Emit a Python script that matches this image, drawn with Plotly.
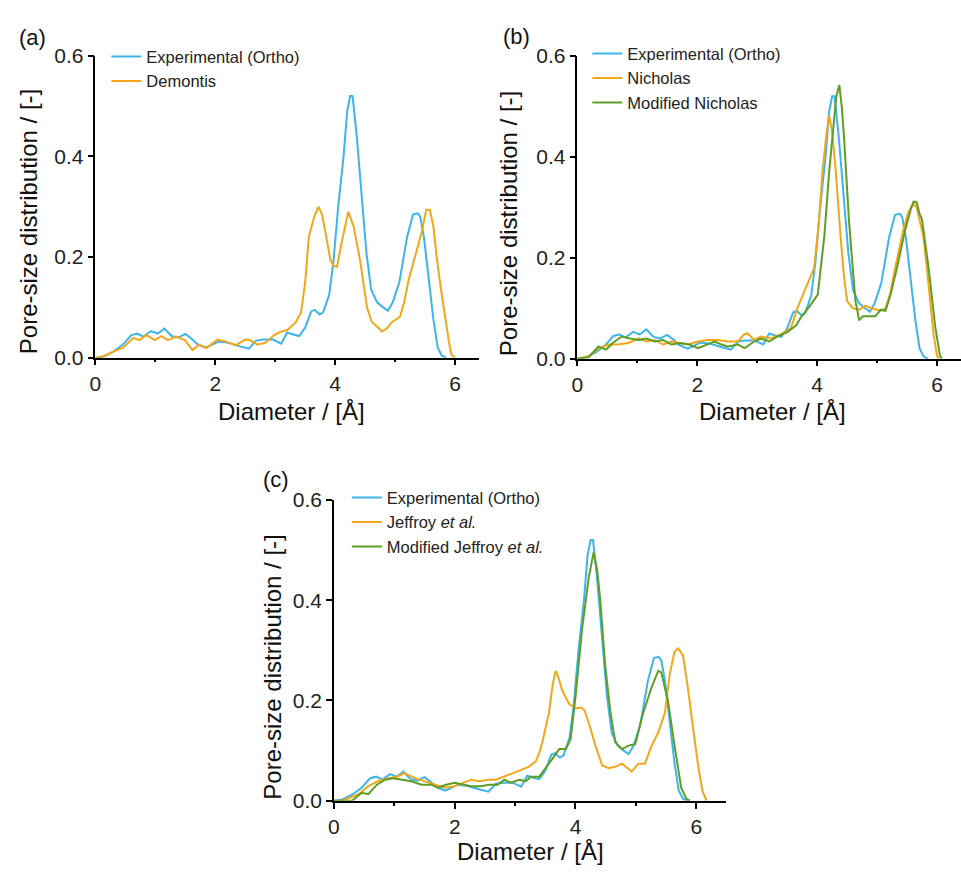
import plotly.graph_objects as go

# ---------------- data ----------------
exp_x = [0.0, 0.13, 0.3, 0.46, 0.6, 0.7, 0.8, 0.93, 1.04, 1.15, 1.27, 1.38, 1.5, 1.6, 1.7, 1.84, 1.95,
         2.05, 2.2, 2.3, 2.43, 2.56, 2.68, 2.8, 2.96, 3.1, 3.2, 3.3, 3.4, 3.5, 3.6, 3.66, 3.74, 3.8,
         3.9, 3.97, 4.05, 4.14, 4.2, 4.25, 4.29, 4.36, 4.44, 4.52, 4.6, 4.7, 4.8, 4.88, 4.96, 5.07,
         5.2, 5.3, 5.38, 5.42, 5.48, 5.56, 5.64, 5.71, 5.78, 5.85]
exp_y = [0.0, 0.002, 0.012, 0.026, 0.045, 0.048, 0.042, 0.053, 0.048, 0.058, 0.043, 0.040, 0.047, 0.038,
         0.027, 0.020, 0.026, 0.032, 0.030, 0.026, 0.022, 0.018, 0.034, 0.036, 0.036, 0.028, 0.050,
         0.046, 0.043, 0.060, 0.092, 0.095, 0.086, 0.090, 0.125, 0.19, 0.30, 0.40, 0.49, 0.52, 0.52,
         0.44, 0.32, 0.21, 0.135, 0.11, 0.10, 0.093, 0.11, 0.15, 0.24, 0.285, 0.287, 0.28, 0.24, 0.16,
         0.075, 0.02, 0.004, 0.0]

dem_x = [0.0, 0.13, 0.3, 0.46, 0.63, 0.74, 0.85, 0.99, 1.1, 1.21, 1.35, 1.49, 1.62, 1.73, 1.85, 2.04,
         2.18, 2.34, 2.5, 2.58, 2.7, 2.84, 2.98, 3.1, 3.2, 3.34, 3.43, 3.5, 3.56, 3.65, 3.72, 3.78,
         3.84, 3.92, 3.97, 4.03, 4.12, 4.22, 4.31, 4.42, 4.53, 4.61, 4.7, 4.78, 4.86, 4.95, 5.08,
         5.15, 5.22, 5.36, 5.44, 5.52, 5.58, 5.64, 5.69, 5.76, 5.83, 5.9, 5.94, 6.0]
dem_y = [0.0, 0.003, 0.012, 0.020, 0.039, 0.035, 0.045, 0.035, 0.043, 0.035, 0.042, 0.035, 0.015, 0.026,
         0.019, 0.036, 0.032, 0.025, 0.036, 0.035, 0.026, 0.030, 0.045, 0.052, 0.055, 0.070, 0.090,
         0.15, 0.24, 0.28, 0.30, 0.285, 0.248, 0.194, 0.183, 0.181, 0.236, 0.29, 0.26, 0.19, 0.10,
         0.071, 0.062, 0.052, 0.058, 0.071, 0.081, 0.11, 0.152, 0.216, 0.248, 0.294, 0.294, 0.26,
         0.203, 0.14, 0.081, 0.03, 0.006, 0.0]

nic_x = [0.0, 0.19, 0.35, 0.52, 0.68, 0.85, 1.02, 1.15, 1.29, 1.43, 1.57, 1.71, 1.85, 2.01, 2.18, 2.35,
         2.51, 2.68, 2.78, 2.84, 2.95, 3.06, 3.23, 3.39, 3.56, 3.67, 3.78, 3.84, 3.95, 4.02, 4.09,
         4.15, 4.2, 4.25, 4.31, 4.39, 4.45, 4.5, 4.59, 4.7, 4.81, 4.89, 5.0, 5.07, 5.14, 5.22, 5.3,
         5.44, 5.52, 5.6, 5.66, 5.72, 5.77, 5.83, 5.88, 5.94, 6.0, 6.03]
nic_y = [0.0, 0.005, 0.020, 0.028, 0.028, 0.031, 0.040, 0.034, 0.037, 0.028, 0.034, 0.031, 0.028, 0.034,
         0.037, 0.037, 0.034, 0.034, 0.048, 0.050, 0.037, 0.044, 0.040, 0.048, 0.060, 0.10, 0.13,
         0.147, 0.18, 0.26, 0.372, 0.44, 0.481, 0.45, 0.372, 0.243, 0.16, 0.114, 0.10, 0.097, 0.105,
         0.10, 0.097, 0.095, 0.10, 0.13, 0.179, 0.256, 0.29, 0.307, 0.30, 0.27, 0.243, 0.18, 0.114,
         0.05, 0.005, 0.0]

mnic_x = [0.0, 0.19, 0.35, 0.48, 0.59, 0.74, 0.88, 1.02, 1.15, 1.29, 1.43, 1.57, 1.71, 1.87, 2.01, 2.15,
          2.29, 2.4, 2.51, 2.68, 2.79, 2.95, 3.06, 3.2, 3.34, 3.51, 3.65, 3.73, 3.82, 3.9, 4.01, 4.07,
          4.12, 4.2, 4.25, 4.32, 4.37, 4.41, 4.45, 4.53, 4.6, 4.64, 4.7, 4.76, 4.81, 4.9, 4.97, 5.06,
          5.14, 5.22, 5.33, 5.47, 5.56, 5.61, 5.66, 5.7, 5.75, 5.86, 5.97, 6.05, 6.08]
mnic_y = [0.0, 0.003, 0.024, 0.018, 0.031, 0.044, 0.040, 0.037, 0.040, 0.034, 0.037, 0.028, 0.031, 0.028,
          0.021, 0.028, 0.034, 0.028, 0.024, 0.028, 0.021, 0.034, 0.040, 0.034, 0.044, 0.053, 0.066,
          0.082, 0.095, 0.108, 0.127, 0.19, 0.243, 0.37, 0.436, 0.52, 0.542, 0.50, 0.436, 0.275, 0.17,
          0.114, 0.076, 0.084, 0.084, 0.084, 0.084, 0.097, 0.095, 0.125, 0.179, 0.256, 0.295, 0.311,
          0.31, 0.29, 0.275, 0.179, 0.063, 0.005, 0.0]

jef_x = [0.0, 0.13, 0.41, 0.57, 0.73, 0.9, 1.04, 1.17, 1.34, 1.5, 1.67, 1.83, 2.0, 2.16, 2.27, 2.41, 2.55,
         2.68, 2.82, 2.96, 3.09, 3.23, 3.34, 3.4, 3.45, 3.56, 3.62, 3.67, 3.72, 3.78, 3.89, 4.0, 4.1,
         4.15, 4.22, 4.33, 4.44, 4.55, 4.66, 4.77, 4.85, 4.93, 5.04, 5.15, 5.26, 5.37, 5.48, 5.56,
         5.64, 5.7, 5.78, 5.86, 5.95, 6.03, 6.1, 6.14, 6.17]
jef_y = [0.0, 0.0, 0.013, 0.029, 0.039, 0.045, 0.048, 0.055, 0.045, 0.039, 0.032, 0.026, 0.029, 0.036,
         0.042, 0.039, 0.042, 0.042, 0.048, 0.055, 0.061, 0.068, 0.078, 0.095, 0.116, 0.175, 0.23,
         0.259, 0.245, 0.22, 0.194, 0.184, 0.186, 0.18, 0.155, 0.11, 0.071, 0.065, 0.068, 0.074,
         0.065, 0.058, 0.074, 0.074, 0.11, 0.136, 0.175, 0.252, 0.297, 0.304, 0.29, 0.226, 0.142,
         0.071, 0.02, 0.006, 0.0]

mjef_x = [0.0, 0.3, 0.46, 0.57, 0.71, 0.85, 0.98, 1.12, 1.28, 1.45, 1.61, 1.72, 1.86, 2.0, 2.14, 2.27,
          2.43, 2.57, 2.71, 2.82, 2.93, 3.07, 3.18, 3.26, 3.4, 3.51, 3.62, 3.73, 3.84, 3.92, 4.0, 4.11,
          4.22, 4.3, 4.36, 4.41, 4.49, 4.58, 4.66, 4.77, 4.88, 4.99, 5.12, 5.26, 5.37, 5.42, 5.53,
          5.64, 5.75, 5.84, 5.9]
mjef_y = [0.0, 0.0, 0.016, 0.013, 0.032, 0.042, 0.045, 0.042, 0.039, 0.032, 0.032, 0.026, 0.032, 0.036,
          0.032, 0.029, 0.029, 0.032, 0.032, 0.042, 0.036, 0.042, 0.039, 0.048, 0.048, 0.065, 0.084,
          0.103, 0.103, 0.123, 0.207, 0.343, 0.446, 0.495, 0.46, 0.40, 0.272, 0.175, 0.116, 0.103,
          0.11, 0.113, 0.175, 0.226, 0.259, 0.256, 0.20, 0.11, 0.026, 0.003, 0.0]

x_ticks = [0, 2, 4, 6]
y_ticks = [0.0, 0.2, 0.4, 0.6]

# ---------------- styling ----------------
W, H = 961, 877
BLUE, ORANGE, GREEN = "#3DB4EA", "#F2A71B", "#5E9E25"
FONT = "Liberation Sans, Arial, sans-serif"
LW = 2


def px(x):
    return x / W


def py(y):
    return 1 - y / H


fig = go.Figure()


def add(x, y, name, color, xa, ya, leg):
    fig.add_trace(go.Scatter(x=x, y=y, mode="lines", name=name, xaxis=xa, yaxis=ya,
                             legend=leg, line=dict(color=color, width=LW)))


add(exp_x, exp_y, "Experimental (Ortho)", BLUE, "x", "y", "legend")
add(dem_x, dem_y, "Demontis", ORANGE, "x", "y", "legend")
add(exp_x, exp_y, "Experimental (Ortho)", BLUE, "x2", "y2", "legend2")
add(nic_x, nic_y, "Nicholas", ORANGE, "x2", "y2", "legend2")
add(mnic_x, mnic_y, "Modified Nicholas", GREEN, "x2", "y2", "legend2")
add(exp_x, exp_y, "Experimental (Ortho)", BLUE, "x3", "y3", "legend3")
add(jef_x, jef_y, "Jeffroy <i>et al.</i>", ORANGE, "x3", "y3", "legend3")
add(mjef_x, mjef_y, "Modified Jeffroy <i>et al.</i>", GREEN, "x3", "y3", "legend3")


def xaxis(domain, rng, anchor):
    return dict(domain=domain, range=rng, anchor=anchor, tickvals=x_ticks, ticks="outside",
                ticklen=6, tickwidth=1.5, tickcolor="black", showline=True, linecolor="black",
                linewidth=1.5, showgrid=False, zeroline=False,
                tickfont=dict(family=FONT, size=21, color="#222"),
                minor=dict(tickvals=[1, 3, 5], ticks="outside", ticklen=3, tickwidth=1.5,
                           tickcolor="black", showgrid=False))


def yaxis(domain, anchor):
    return dict(domain=domain, range=[0, 0.6], anchor=anchor, tickvals=y_ticks, tickformat=".1f",
                ticks="outside", ticklen=6, tickwidth=1.5, tickcolor="black", showline=True,
                linecolor="black", linewidth=1.5, showgrid=False, zeroline=False,
                tickfont=dict(family=FONT, size=21, color="#222"))


legend_common = dict(bgcolor="rgba(0,0,0,0)", font=dict(family=FONT, size=16.5, color="#222"),
                     xanchor="left", yanchor="top", tracegroupgap=0, itemwidth=30)

annotations = []


def ann(text, x, y, size, angle=0):
    annotations.append(dict(text=text, x=px(x), y=py(y), xref="paper", yref="paper",
                            xanchor="center", yanchor="middle", showarrow=False,
                            textangle=angle, font=dict(family=FONT, size=size, color="#111")))


ann("(a)", 27, 26, 22)
ann("(b)", 514, 25, 22)
ann("(c)", 272, 480, 22)
ann("Diameter / [Å]", 287, 410, 24)
ann("Diameter / [Å]", 771, 410, 24)
ann("Diameter / [Å]", 528, 862, 24)
ann("Pore-size distribution / [-]", 23, 215, 24, -90)
ann("Pore-size distribution / [-]", 505, 217, 24, -90)
ann("Pore-size distribution / [-]", 268, 673, 24, -90)

fig.update_layout(
    width=W, height=H, margin=dict(l=0, r=0, t=0, b=0),
    paper_bgcolor="white", plot_bgcolor="white",
    xaxis=xaxis([px(90), px(476)], [0, 6.4], "y"),
    yaxis=yaxis([py(355), py(45)], "x"),
    xaxis2=xaxis([px(575), px(961)], [0, 6.4], "y2"),
    yaxis2=yaxis([py(356), py(45)], "x2"),
    xaxis3=xaxis([px(330), px(725)], [0, 6.5], "y3"),
    yaxis3=yaxis([py(810), py(501)], "x3"),
    legend=dict(x=px(101), y=py(28), **legend_common),
    legend2=dict(x=px(585), y=py(25), **legend_common),
    legend3=dict(x=px(343), y=py(481), **legend_common),
    annotations=annotations,
    showlegend=True,
)

fig.write_html("out.html")
